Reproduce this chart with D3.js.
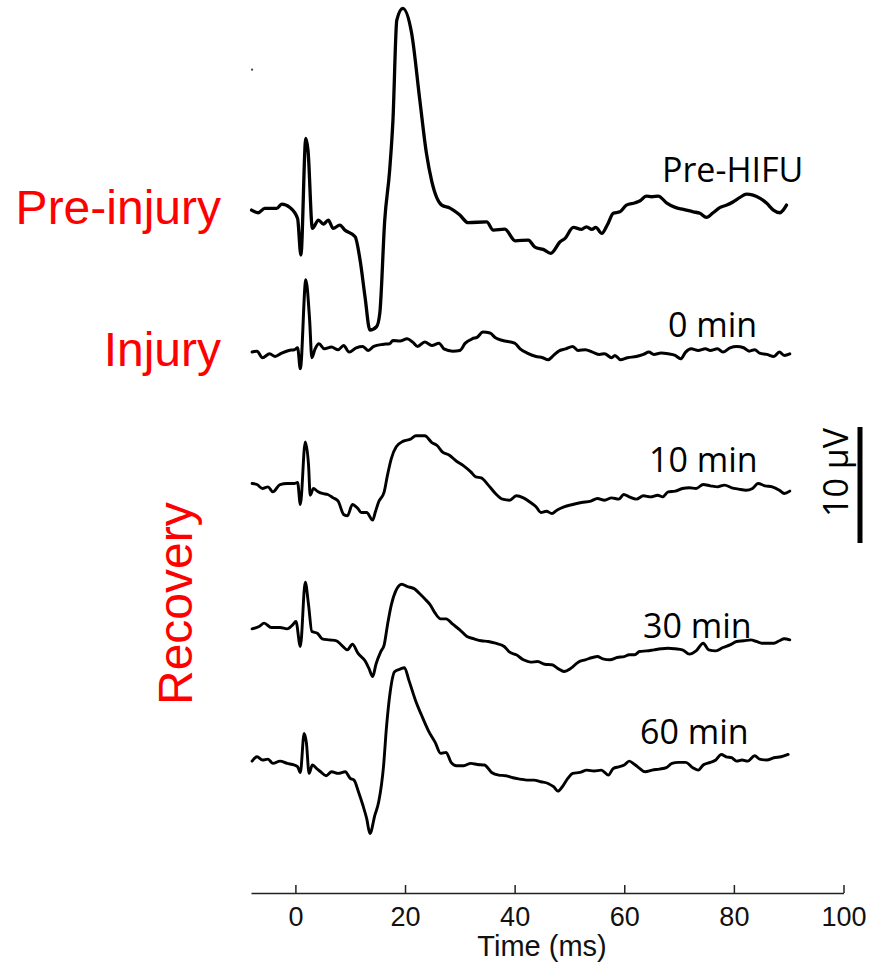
<!doctype html>
<html>
<head>
<meta charset="utf-8">
<title>Evoked potentials before and after HIFU</title>
<script src="https://d3js.org/d3.v7.min.js"></script>
<style>
  body { margin: 0; background: #fff; }
</style>
</head>
<body>
<script>

const w = 885;
const h = 964;

// x axis ticks (ms)
const xTicks = [0, 20, 40, 60, 80, 100];

// trace names, vertical offsets (µV) and the phase labels
const traceNames = ["Pre-HIFU", "0 min", "10 min", "30 min", "60 min"];
const traceOffsets = [28.7, 16.4, 5.1, -7.4, -18.8];
const phaseNames = ["Pre-injury", "Injury", "Recovery"];

// scale bar (µV)
const scaleBar = [0, 10];

// Pre-HIFU: time (ms) / amplitude (µV)
const preT = [-8.0,-6.8,-5.6,-3.4,-2.5,-1.0,0.4,1.0,1.9,2.3,3.1,4.2,5.1,6.0,6.9,8.1,9.0,10.9,11.8,12.7,13.6,14.8,15.4,16.3,17.2,17.8,18.5,19.6,21.2,22.7,23.9,24.9,26.7,28.2,30.0,31.5,34.9,36.1,38.2,40.1,42.5,43.7,45.2,46.6,48.3,49.2,50.7,52.2,53.1,54.1,54.8,55.9,56.9,58.0,59.2,60.4,62.0,62.9,64.0,65.0,66.2,67.7,69.3,70.8,72.6,73.8,75.0,76.2,77.5,78.7,79.9,81.1,82.3,83.5,84.8,86.0,87.2,88.4,89.0,89.6];
const preV = [0,-0.23,0.15,0.15,0.52,0.23,-0.72,-3.88,6.18,5.17,-1.58,-0.86,-1.21,-0.86,-1.58,-1.29,-1.72,-2.30,-4.31,-7.47,-10.34,-10.06,-8.88,-0.86,3.45,7.76,16.38,17.39,15.26,9.48,4.91,2.44,0.43,0.17,-0.43,-1.09,-1.01,-1.72,-1.64,-2.65,-2.59,-3.19,-3.39,-3.73,-2.73,-2.44,-1.49,-1.66,-1.44,-1.66,-1.49,-2.01,-1.29,-0.28,-0.15,0.43,0.63,0.80,1.21,1.15,1.21,0.63,0.23,0.06,-0.15,-0.28,-0.63,-0.23,0.23,0.43,0.72,1.09,1.38,1.29,1.01,0.58,0.0,-0.23,0.0,0.43];

// 0 min
const min0T = [-7.9,-7.0,-6.0,-4.7,-3.7,-2.5,-1.2,-0.2,0.4,0.9,1.9,2.6,3.0,3.6,4.3,5.3,6.6,7.8,8.8,9.8,11.1,12.3,13.3,14.3,15.9,17.2,17.8,19.1,20.4,21.4,22.3,23.6,24.9,26.2,27.1,28.7,30.0,31.0,32.3,33.2,34.2,35.5,36.5,37.8,40.0,41.0,42.3,43.9,45.1,46.1,47.1,48.0,49.3,50.6,51.6,52.9,54.2,55.5,56.4,57.7,58.3,59.3,60.6,62.2,63.5,64.5,65.4,66.7,68.0,69.3,70.3,71.2,72.2,73.5,74.8,75.7,77.0,78.0,79.3,80.5,81.8,82.8,83.8,84.7,86.0,87.3,88.3,89.2,90.2];
const min0V = [0.06,0.14,-0.43,-0.09,-0.32,-0.03,0.20,0.26,0.43,-1.38,6.29,2.79,-0.43,0.34,0.78,0.34,0.49,0.26,0.63,0.06,0.43,0.55,0.20,0.55,0.72,0.78,1.06,1.01,1.21,0.92,0.55,0.92,0.63,0.83,0.34,0.14,0.20,0.83,1.21,1.35,1.78,1.70,1.29,1.06,0.83,0.34,-0.03,-0.32,-0.43,-0.60,-0.23,0.14,0.34,0.55,0.20,0.26,0.06,-0.14,-0.09,-0.43,-0.23,-0.60,-0.43,-0.32,-0.14,0.06,-0.14,-0.03,-0.09,-0.23,-0.52,0.06,0.34,0.20,0.34,0.20,0.34,0.06,0.43,0.55,0.43,0.14,0.26,-0.03,-0.14,-0.32,0.06,-0.23,-0.09];

// 10 min
const min10T = [-7.9,-7.0,-6.0,-5.0,-4.1,-2.8,-1.5,-0.2,0.4,0.9,1.8,2.4,2.7,3.3,4.0,4.9,5.9,6.9,7.8,8.8,9.5,10.4,11.4,12.0,13.0,14.1,14.6,15.2,16.2,16.8,17.5,18.4,19.7,21.0,22.0,23.6,24.9,25.9,26.8,28.1,29.4,30.7,32.0,32.9,33.9,35.2,36.5,37.8,39.1,40.3,41.6,42.9,43.9,44.8,45.8,46.8,47.7,49.0,50.6,52.2,53.9,55.1,56.4,57.7,59.0,59.9,60.9,62.2,63.5,64.8,66.1,67.0,68.0,69.3,70.6,71.9,73.1,74.4,75.7,77.0,78.3,79.6,80.9,82.2,83.4,84.4,85.7,87.0,88.3,89.2,90.2];
const min10V = [0.03,-0.06,-0.40,-0.26,-0.69,-0.06,0.03,0.03,0.11,-1.78,3.62,1.61,-0.98,-0.40,-0.63,-0.83,-0.92,-1.21,-1.49,-2.64,-2.76,-1.78,-2.13,-2.47,-2.47,-3.13,-2.41,-1.55,-0.69,0.75,2.18,3.19,3.68,3.85,4.14,4.14,3.56,3.28,2.76,2.47,1.95,1.55,1.03,0.60,0.52,-0.11,-0.83,-1.32,-1.41,-1.03,-1.21,-1.61,-1.98,-2.47,-2.36,-2.56,-2.27,-1.98,-1.78,-1.61,-1.49,-1.26,-1.41,-1.21,-1.32,-0.92,-1.12,-1.32,-1.03,-1.12,-0.98,-1.12,-0.69,-0.63,-0.40,-0.34,-0.40,-0.06,-0.17,-0.26,-0.11,-0.34,-0.46,-0.55,-0.40,0.03,-0.17,-0.26,-0.55,-0.83,-0.63];

// 30 min
const min30T = [-7.9,-6.6,-5.7,-4.4,-2.8,-1.5,-0.5,0.1,0.9,1.8,2.4,3.0,4.0,4.9,6.2,7.5,8.5,9.5,10.4,11.4,12.7,13.4,14.1,14.7,15.6,16.2,16.8,17.5,18.4,19.4,20.4,21.7,22.6,23.6,24.6,25.5,26.5,27.5,28.7,30.0,31.3,32.6,33.9,35.2,36.5,38.1,39.1,40.3,41.6,42.9,44.2,45.5,46.8,48.0,49.0,50.3,51.6,52.9,54.2,55.1,56.1,57.4,58.7,60.0,60.9,61.9,62.8,64.1,65.4,66.7,68.0,69.3,70.6,71.9,73.1,74.4,75.4,76.7,78.0,79.3,80.5,81.8,83.1,84.1,85.1,86.3,87.3,88.3,89.2,90.2];
const min30V = [0,0.20,0.49,0.11,0.11,0,0.34,0.63,-1.52,4.02,2.07,-0.23,-0.37,-0.86,-0.95,-1.03,-1.44,-1.81,-1.32,-2.10,-2.76,-3.39,-4.11,-3.05,-1.95,-1.38,0.34,2.07,3.36,3.85,3.65,3.45,3.07,2.59,2.07,1.35,0.86,0.86,0.40,-0.09,-0.66,-0.86,-1.03,-1.09,-1.24,-1.52,-2.01,-2.24,-2.67,-2.87,-2.82,-3.05,-3.10,-3.45,-3.68,-3.39,-2.87,-2.67,-2.47,-2.39,-2.59,-2.67,-2.47,-2.39,-2.24,-2.24,-1.95,-1.90,-1.81,-1.72,-1.67,-1.72,-1.81,-2.18,-1.90,-1.24,-1.81,-1.90,-1.61,-1.38,-1.09,-1.03,-0.95,-1.09,-1.24,-1.24,-1.24,-1.03,-0.86,-0.95];

// 60 min
const min60T = [-7.9,-7.0,-6.0,-5.0,-4.1,-2.8,-1.5,-0.2,0.4,0.9,1.6,2.0,2.5,3.1,4.0,4.6,5.6,6.6,7.8,9.1,10.0,10.7,11.5,12.3,13.0,13.6,14.5,15.2,16.1,16.6,17.3,18.1,19.1,19.9,20.7,22.0,23.0,24.3,25.5,26.5,27.5,28.4,29.4,30.7,32.0,33.2,34.5,35.8,37.1,38.4,39.7,41.0,42.3,43.5,44.8,46.1,47.1,47.9,48.7,49.7,50.6,51.9,53.2,54.5,55.8,57.1,58.0,59.0,60.0,60.9,61.9,62.8,63.8,65.1,66.4,67.7,68.7,69.9,71.2,72.5,73.5,74.4,75.7,76.7,77.7,78.6,79.6,80.5,81.5,82.5,83.8,84.7,86.0,87.3,88.6,89.9];
const min60V = [0,0.37,0.09,0.17,-0.20,0,-0.20,-0.34,-0.49,-0.98,2.39,1.61,-1.06,-0.34,-0.69,-0.92,-1.26,-0.92,-1.06,-0.92,-1.49,-1.64,-2.64,-3.79,-4.94,-6.24,-4.66,-3.51,-0.34,2.82,5.98,7.70,7.93,8.05,6.98,5.11,3.97,2.59,1.61,0.66,0.75,-0.11,-0.40,-0.40,-0.20,-0.29,-0.34,-0.98,-1.21,-1.26,-1.44,-1.55,-1.64,-1.64,-1.78,-1.93,-2.21,-2.59,-2.21,-1.49,-1.06,-0.98,-0.78,-0.86,-0.78,-1.21,-0.63,-0.49,-0.34,0,-0.29,-0.63,-0.92,-0.78,-0.69,-0.57,-0.20,-0.11,-0.11,-0.57,-0.78,-0.34,-0.11,0.09,0.57,0.37,0.29,0,0.09,0,0.46,0.17,0.09,0.29,0.37,0.57];

const traceTimes = [preT, min0T, min10T, min30T, min60T];
const traceValues = [preV, min0V, min10V, min30V, min60V];

// layout (pixels)
const traceWidths = [3.3, 3, 2.9, 2.9, 2.9];
const labelX = [662, 668, 649, 643, 640];
const labelY = [182, 337, 472, 638, 744];

const svg = d3.select("body").append("svg")
	.attr("width", w)
	.attr("height", h);

const x = d3.scaleLinear()
	.domain([-8.1, 100])
	.range([251, 843.5]);

// 10 µV = 116 px, taken from the scale bar
const y = d3.scaleLinear()
	.domain([0, 10])
	.range([543, 427]);

const line = d3.line()
	.x(d => x(d[0]))
	.y(d => y(d[1]))
	.curve(d3.curveMonotoneX);

traceTimes.forEach(function(times, i) {
	const pts = times.map((t, k) => [t, traceValues[i][k] + traceOffsets[i]]);
	svg.append("path")
		.attr("d", line(pts))
		.attr("fill", "none")
		.attr("stroke", "#000")
		.attr("stroke-width", traceWidths[i])
		.attr("stroke-linejoin", "round")
		.attr("stroke-linecap", "round");
});

// trace labels
svg.selectAll("text.trace")
	.data(traceNames)
	.enter()
	.append("text")
	.attr("class", "trace")
	.attr("x", (d, i) => labelX[i])
	.attr("y", (d, i) => labelY[i])
	.attr("font-family", "'Open Sans', 'Noto Sans', sans-serif")
	.attr("font-size", 34)
	.attr("fill", "#000")
	.text(d => d);

// stray dot at top left of the original figure
svg.append("circle")
	.attr("cx", x(-7.9))
	.attr("cy", y(40.8))
	.attr("r", 1.1)
	.attr("fill", "#444");

// scale bar
svg.append("line")
	.attr("x1", 860).attr("x2", 860)
	.attr("y1", y(scaleBar[0]))
	.attr("y2", y(scaleBar[1]))
	.attr("stroke", "#000")
	.attr("stroke-width", 5);

svg.append("text")
	.attr("transform", "translate(848," + (y(scaleBar[0]) - 26) + ") rotate(-90)")
	.attr("font-family", "'Open Sans', 'Noto Sans', sans-serif")
	.attr("font-size", 34)
	.attr("fill", "#000")
	.text(scaleBar[1] + " \u00b5V");

// red phase labels
const red = "#ff0000";
const redFont = "'Liberation Sans', Arial, sans-serif";

svg.append("text")
	.attr("x", 221).attr("y", 224)
	.attr("text-anchor", "end")
	.attr("font-family", redFont)
	.attr("font-size", 48)
	.attr("fill", red)
	.text(phaseNames[0]);

svg.append("text")
	.attr("x", 221).attr("y", 366)
	.attr("text-anchor", "end")
	.attr("font-family", redFont)
	.attr("font-size", 48)
	.attr("fill", red)
	.text(phaseNames[1]);

svg.append("text")
	.attr("transform", "translate(192,705) rotate(-90)")
	.attr("font-family", redFont)
	.attr("font-size", 48)
	.attr("fill", red)
	.text(phaseNames[2]);

// time axis
const xAxis = d3.axisBottom(x)
	.tickValues(xTicks)
	.tickSizeInner(-8)
	.tickSizeOuter(0)
	.tickPadding(14);

const gx = svg.append("g")
	.attr("transform", "translate(0,893)")
	.call(xAxis);

gx.select(".domain").attr("stroke", "#222").attr("stroke-width", 1.5);
gx.selectAll(".tick line").attr("stroke", "#222").attr("stroke-width", 1.5);
gx.selectAll(".tick text")
	.attr("font-family", "'Liberation Sans', Arial, sans-serif")
	.attr("font-size", 27)
	.attr("fill", "#111");

svg.append("text")
	.attr("x", x(45))
	.attr("y", 956)
	.attr("text-anchor", "middle")
	.attr("font-family", "'Liberation Sans', Arial, sans-serif")
	.attr("font-size", 29)
	.attr("fill", "#111")
	.text("Time (ms)");

</script>
</body>
</html>
